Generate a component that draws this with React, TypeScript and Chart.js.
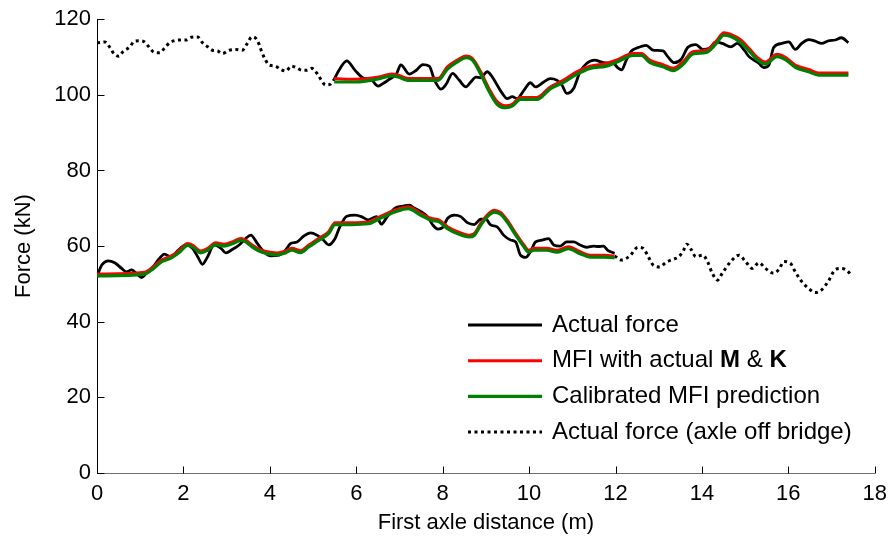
import React, { useEffect, useRef } from "react";
import { Chart, registerables } from "chart.js";

Chart.register(...registerables);

// ---------- data ----------
const xTickValues = [0, 2, 4, 6, 8, 10, 12, 14, 16, 18];
const yTickValues = [0, 20, 40, 60, 80, 100, 120];

// Upper force (second axle) – actual, while on bridge
const actualUpperX = [5.49, 5.6, 5.78, 5.97, 6.2, 6.31, 6.51, 6.62, 6.74, 6.93, 7.03, 7.23, 7.39, 7.54, 7.69, 7.81, 7.96, 8.08, 8.23, 8.38, 8.54, 8.65, 8.77, 8.88, 9.03, 9.15, 9.26, 9.38, 9.49, 9.61, 9.72, 9.88, 10.03, 10.15, 10.34, 10.49, 10.64, 10.76, 10.87, 11.03, 11.18, 11.33, 11.52, 11.72, 11.95, 12.05, 12.14, 12.25, 12.36, 12.48, 12.71, 12.87, 13.1, 13.21, 13.36, 13.52, 13.67, 13.86, 14.02, 14.17, 14.32, 14.47, 14.67, 14.82, 14.98, 15.09, 15.2, 15.32, 15.43, 15.55, 15.66, 15.85, 16.01, 16.16, 16.31, 16.47, 16.62, 16.77, 16.93, 17.08, 17.23, 17.39];
const actualUpperY = [104.1, 106.5, 109, 106.5, 104.3, 104.3, 102.3, 103, 103.9, 105.5, 107.9, 105.5, 106.5, 108, 107.6, 103.9, 101.5, 102.8, 105.7, 103.9, 102.1, 103.4, 104.7, 104.5, 106.1, 104.7, 102.6, 100.4, 99, 99.5, 99, 101.2, 103.2, 102.1, 103.4, 104.3, 103.9, 102.6, 100.4, 101.7, 106.1, 108.3, 109.2, 108.5, 108.3, 107.2, 106.6, 109.2, 111.5, 112.3, 113.1, 111.8, 111.6, 110.1, 108.5, 109.4, 112.5, 113.3, 112, 112.3, 114, 113.6, 112.7, 113.6, 111.8, 110.1, 109.2, 108.3, 107.2, 107.9, 112.5, 113.6, 114, 112, 113.6, 114.6, 114.2, 113.6, 114.3, 114.5, 115.1, 113.8];

const mfiUpperX = [5.49, 6.0, 6.51, 6.82, 6.97, 7.2, 7.89, 8.11, 8.34, 8.54, 8.69, 8.88, 9.07, 9.26, 9.46, 9.61, 9.8, 10.18, 10.49, 10.8, 11.1, 11.41, 11.79, 12.02, 12.41, 12.6, 12.79, 13.1, 13.33, 13.56, 13.79, 14.1, 14.32, 14.51, 14.67, 14.9, 15.09, 15.28, 15.47, 15.74, 15.93, 16.16, 16.47, 16.7, 17.39];
const mfiUpperY = [104.3, 104.1, 104.7, 105.5, 105.2, 104.3, 104.3, 107.4, 109.2, 110.3, 109.6, 106.1, 101.7, 98.2, 97.1, 97.5, 99.3, 99.3, 102.1, 103.9, 106.1, 107.6, 108.3, 109.2, 110.9, 110.9, 109.2, 108, 107, 108.7, 111.4, 111.8, 114, 116.4, 116, 114.5, 112.3, 109.9, 108.7, 110.7, 109.9, 107.9, 106.7, 105.8, 105.8];

const calUpperX = [5.49, 6.0, 6.51, 6.82, 6.97, 7.2, 7.89, 8.11, 8.34, 8.54, 8.69, 8.88, 9.07, 9.26, 9.46, 9.61, 9.8, 10.18, 10.49, 10.8, 11.1, 11.41, 11.79, 12.02, 12.41, 12.6, 12.79, 13.1, 13.33, 13.56, 13.79, 14.1, 14.32, 14.51, 14.67, 14.9, 15.09, 15.28, 15.47, 15.74, 15.93, 16.16, 16.47, 16.7, 17.39];
const calUpperY = [103.4, 103.4, 104.2, 105.0, 104.7, 103.8, 103.8, 106.8, 108.7, 109.8, 109.2, 105.5, 101.0, 97.5, 96.6, 97.0, 98.8, 98.8, 101.6, 103.3, 105.4, 107.0, 107.6, 108.6, 110.4, 110.4, 108.6, 107.4, 106.4, 108.0, 110.8, 111.2, 113.4, 115.8, 115.4, 113.8, 111.6, 109.3, 108.1, 110.1, 109.3, 107.3, 106.1, 105.2, 105.2];

const offUpperX = [0, 0.18, 0.3, 0.39, 0.51, 0.6, 0.76, 0.87, 0.99, 1.1, 1.2, 1.33, 1.45, 1.56, 1.68, 1.79, 1.92, 2.06, 2.18, 2.33, 2.44, 2.56, 2.67, 2.79, 2.9, 3.06, 3.21, 3.36, 3.48, 3.58, 3.67, 3.76, 3.81, 3.89, 3.98, 4.13, 4.25, 4.37, 4.5, 4.63, 4.74, 4.86, 4.97, 5.09, 5.19, 5.29, 5.4, 5.49];
const offUpperY = [113.7, 114, 112.5, 110.9, 110.2, 111.4, 112.7, 114.2, 114.3, 114, 112.7, 111.2, 111.1, 112.3, 113.8, 114.3, 114.5, 114.5, 115.2, 115.3, 113.8, 112.7, 111.8, 111.6, 110.9, 111.8, 112, 111.8, 113.6, 115.3, 115, 113.1, 111.4, 109.4, 107.9, 107.6, 106.7, 106.3, 107.6, 107.1, 106.5, 106.5, 107, 105.7, 103.9, 102.6, 102.8, 104.1];

// Lower force (first axle)
const actualLowerX = [0, 0.05, 0.11, 0.26, 0.41, 0.57, 0.68, 0.8, 0.91, 1.03, 1.14, 1.29, 1.45, 1.56, 1.72, 1.87, 2.06, 2.21, 2.33, 2.44, 2.56, 2.71, 2.87, 2.98, 3.13, 3.29, 3.44, 3.56, 3.71, 3.86, 4.02, 4.21, 4.36, 4.48, 4.63, 4.78, 4.94, 5.09, 5.24, 5.36, 5.51, 5.62, 5.78, 5.97, 6.12, 6.28, 6.47, 6.58, 6.7, 6.89, 7.08, 7.23, 7.35, 7.5, 7.66, 7.77, 7.89, 8.0, 8.11, 8.27, 8.42, 8.57, 8.73, 8.88, 9.0, 9.11, 9.26, 9.41, 9.57, 9.69, 9.8, 9.92, 10.03, 10.15, 10.3, 10.45, 10.57, 10.72, 10.87, 11.03, 11.18, 11.33, 11.49, 11.6, 11.72, 11.83, 11.98];
const actualLowerY = [51.8, 53.5, 55, 56.1, 55.6, 54.1, 53.2, 53.7, 52.8, 51.7, 52.8, 54.4, 56.8, 57.9, 57, 58.8, 60.3, 59.4, 57.2, 55.2, 57.2, 60.3, 59.4, 58.2, 59.1, 60.3, 62, 62.9, 60.7, 58.5, 57.4, 57.6, 58.9, 60.7, 61.1, 62.6, 63.5, 62.9, 61.6, 60.3, 62, 65.1, 67.9, 68.2, 67.8, 66.9, 67.8, 65.8, 67.5, 70, 70.6, 70.8, 70, 69.1, 67.6, 65.6, 64.5, 64.9, 67.3, 68.2, 67.8, 66.2, 65.7, 67.1, 67.1, 65.6, 65.1, 62.9, 61.6, 61.1, 57.6, 57, 58.5, 61.1, 61.6, 62, 60.3, 60, 61.1, 61.1, 60.3, 59.7, 60, 59.9, 60, 58.8, 58.1];

const mfiLowerX = [0, 1.1, 1.29, 1.49, 1.72, 1.91, 2.1, 2.21, 2.4, 2.56, 2.75, 2.94, 3.13, 3.33, 3.44, 3.59, 3.75, 3.94, 4.17, 4.36, 4.51, 4.71, 4.9, 5.13, 5.36, 5.51, 5.89, 6.28, 6.51, 6.7, 6.89, 7.2, 7.5, 7.74, 7.92, 8.11, 8.34, 8.61, 8.73, 8.88, 9.03, 9.19, 9.34, 9.49, 9.69, 9.88, 9.99, 10.11, 10.41, 10.64, 10.91, 11.18, 11.41, 11.72, 11.98];
const mfiLowerY = [52.6, 53.1, 54.4, 56.3, 57.4, 58.9, 60.7, 60.3, 58.7, 59.4, 60.9, 60.5, 61.1, 62, 61.6, 60.3, 59.2, 58.5, 58.2, 58.7, 59.4, 58.8, 60.3, 62, 63.8, 66.2, 66.2, 66.4, 67.6, 68.6, 69.5, 70.4, 68.6, 67.3, 66.9, 65.1, 63.8, 62.9, 63.3, 66, 68.2, 69.5, 68.9, 66.9, 63.4, 60.3, 58.9, 59.4, 59.4, 58.9, 59.8, 58.5, 57.6, 57.6, 57.4];

const calLowerX = [0, 1.1, 1.29, 1.49, 1.72, 1.91, 2.1, 2.21, 2.4, 2.56, 2.75, 2.94, 3.13, 3.33, 3.44, 3.59, 3.75, 3.94, 4.17, 4.36, 4.51, 4.71, 4.9, 5.13, 5.36, 5.51, 5.89, 6.28, 6.51, 6.7, 6.89, 7.2, 7.5, 7.74, 7.92, 8.11, 8.34, 8.61, 8.73, 8.88, 9.03, 9.19, 9.34, 9.49, 9.69, 9.88, 9.99, 10.11, 10.41, 10.64, 10.91, 11.18, 11.41, 11.72, 11.98];
const calLowerY = [52.1, 52.6, 53.9, 55.8, 56.9, 58.4, 60.2, 59.8, 58.2, 58.9, 60.4, 60.0, 60.6, 61.5, 61.1, 59.8, 58.7, 58.0, 57.7, 58.2, 58.9, 58.3, 59.8, 61.5, 63.3, 65.7, 65.7, 65.9, 67.1, 68.1, 69.0, 69.9, 68.1, 66.8, 66.4, 64.6, 63.3, 62.4, 62.8, 65.5, 67.7, 69.0, 68.4, 66.4, 62.9, 59.8, 58.4, 58.9, 58.9, 58.4, 59.3, 58.0, 57.1, 57.1, 56.9];

const offLowerX = [11.98, 12.14, 12.33, 12.52, 12.64, 12.75, 12.87, 13.02, 13.17, 13.33, 13.44, 13.56, 13.65, 13.75, 13.86, 14.02, 14.13, 14.24, 14.36, 14.47, 14.63, 14.86, 15.01, 15.16, 15.32, 15.47, 15.66, 15.78, 15.9, 16.05, 16.16, 16.31, 16.47, 16.62, 16.77, 16.93, 17.08, 17.23, 17.39, 17.46];
const offLowerY = [57.4, 56.3, 57.4, 59.7, 59.4, 57.4, 55, 54.5, 55.7, 56.5, 57, 58.5, 60.5, 59.1, 57.2, 57.6, 55.9, 52.8, 51, 52.8, 55.4, 57.6, 55.9, 54.1, 55.6, 54.1, 52.8, 53.8, 55.9, 55.4, 53.2, 50.6, 48.8, 47.7, 48.4, 50.8, 53.7, 54.1, 53.2, 52.1];

// legend labels (segments: [text, bold])
const legendActual = [["Actual force", false]];
const legendMfi = [["MFI with actual ", false], ["M", true], [" & ", false], ["K", true]];
const legendCal = [["Calibrated MFI prediction", false]];
const legendOff = [["Actual force (axle off bridge)", false]];

const xTitle = "First axle distance (m)";
const yTitle = "Force (kN)";

// ---------- styles ----------
const FONT = "'Liberation Sans', Arial, Helvetica, sans-serif";
const BLACK = "#000000";
const RED = "#ff0000";
const GREEN = "#008000";

const pts = (xs: number[], ys: number[]) => xs.map((x, i) => ({ x, y: ys[i] }));

const axisTicksPlugin = {
  id: "inwardTicks",
  afterDraw(chart: any) {
    const { ctx, chartArea, scales } = chart;
    const len = 7;
    ctx.save();
    ctx.strokeStyle = "#000";
    ctx.lineWidth = 1;
    ctx.beginPath();
    xTickValues.forEach((v) => {
      const px = Math.round(scales.x.getPixelForValue(v)) + 0.5;
      const by = Math.round(chartArea.bottom) + 0.5;
      ctx.moveTo(px, by);
      ctx.lineTo(px, by - len);
    });
    yTickValues.forEach((v) => {
      const py = Math.round(scales.y.getPixelForValue(v)) + 0.5;
      const lx = Math.round(chartArea.left) + 0.5;
      ctx.moveTo(lx, py);
      ctx.lineTo(lx + len, py);
    });
    ctx.stroke();
    ctx.restore();
  },
};

const legendPlugin = {
  id: "innerLegend",
  afterDraw(chart: any) {
    const { ctx } = chart;
    const items = chart.data.datasets.filter((d: any) => d.legendParts);
    const lineX0 = 468;
    const lineX1 = 542;
    const textX = 552;
    const rowY0 = 325;
    const rowStep = 35.7;
    const size = 24;
    ctx.save();
    items.forEach((d: any, i: number) => {
      const y = rowY0 + i * rowStep;
      ctx.beginPath();
      ctx.strokeStyle = d.borderColor;
      ctx.lineWidth = d.borderWidth;
      ctx.setLineDash(d.borderDash || []);
      ctx.lineCap = "butt";
      ctx.moveTo(lineX0, y);
      ctx.lineTo(lineX1, y);
      ctx.stroke();
      ctx.setLineDash([]);
      let x = textX;
      ctx.fillStyle = "#000";
      ctx.textBaseline = "middle";
      ctx.textAlign = "left";
      d.legendParts.forEach(([t, bold]: [string, boolean]) => {
        ctx.font = `${bold ? "bold " : ""}${size}px ${FONT}`;
        ctx.fillText(t, x, y);
        x += ctx.measureText(t).width;
      });
    });
    ctx.restore();
  },
};

export default function App() {
  const ref = useRef<HTMLCanvasElement | null>(null);

  useEffect(() => {
    if (!ref.current) return;
    const common = {
      pointRadius: 0,
      fill: false,
      cubicInterpolationMode: "monotone" as const,
      borderJoinStyle: "round" as const,
      borderCapStyle: "butt" as const,
    };
    const chart = new Chart(ref.current, {
      type: "line",
      data: {
        datasets: [
          { ...common, label: "Actual force", legendParts: legendActual, data: pts(actualLowerX, actualLowerY), borderColor: BLACK, borderWidth: 2.8, order: 2 } as any,
          { ...common, label: "MFI with actual M & K", legendParts: legendMfi, data: pts(mfiLowerX, mfiLowerY), borderColor: RED, borderWidth: 3, order: 1 } as any,
          { ...common, label: "Calibrated MFI prediction", legendParts: legendCal, data: pts(calLowerX, calLowerY), borderColor: GREEN, borderWidth: 3.2, order: 0 } as any,
          { ...common, label: "Actual force (axle off bridge)", legendParts: legendOff, data: pts(offUpperX, offUpperY), borderColor: BLACK, borderWidth: 3, borderDash: [3, 3.5], order: 3 } as any,
          { ...common, label: "Actual force upper", data: pts(actualUpperX, actualUpperY), borderColor: BLACK, borderWidth: 2.8, order: 2 } as any,
          { ...common, label: "MFI upper", data: pts(mfiUpperX, mfiUpperY), borderColor: RED, borderWidth: 3, order: 1 } as any,
          { ...common, label: "Calibrated upper", data: pts(calUpperX, calUpperY), borderColor: GREEN, borderWidth: 3.2, order: 0 } as any,
          { ...common, label: "Off bridge lower", data: pts(offLowerX, offLowerY), borderColor: BLACK, borderWidth: 3, borderDash: [3, 3.5], order: 3 } as any,
        ],
      },
      options: {
        animation: false,
        responsive: true,
        maintainAspectRatio: false,
        devicePixelRatio: 1,
        layout: { padding: { left: 0, top: 19, right: 15, bottom: 0 } },
        plugins: {
          legend: { display: false },
          tooltip: { enabled: false },
        },
        scales: {
          x: {
            type: "linear",
            min: 0,
            max: 18,
            afterFit: (s: any) => { s.height = 70; },
            afterBuildTicks: (s: any) => { s.ticks = xTickValues.map((v) => ({ value: v })); },
            ticks: { color: "#000", font: { family: FONT, size: 22 }, padding: 8, maxRotation: 0, autoSkip: false },
            grid: { display: true, drawOnChartArea: false, drawTicks: false },
            border: { display: true, color: "#6e6e6e", width: 1 },
            title: { display: true, text: xTitle, color: "#000", font: { family: FONT, size: 22 }, padding: { top: 0, bottom: 7 } },
          },
          y: {
            type: "linear",
            min: 0,
            max: 120,
            afterFit: (s: any) => { s.width = 97; },
            afterBuildTicks: (s: any) => { s.ticks = yTickValues.map((v) => ({ value: v })); },
            ticks: { color: "#000", font: { family: FONT, size: 22 }, padding: 6 },
            grid: { display: true, drawOnChartArea: false, drawTicks: false },
            border: { display: true, color: "#000", width: 1 },
            title: { display: true, text: yTitle, color: "#000", font: { family: FONT, size: 22 }, padding: { top: 11, bottom: 0 } },
          },
        },
      },
      plugins: [axisTicksPlugin, legendPlugin],
    });
    return () => chart.destroy();
  }, []);

  return (
    <div style={{ position: "absolute", left: 0, top: 0, width: 895, height: 543, background: "#fff" }}>
      <canvas ref={ref} />
    </div>
  );
}
